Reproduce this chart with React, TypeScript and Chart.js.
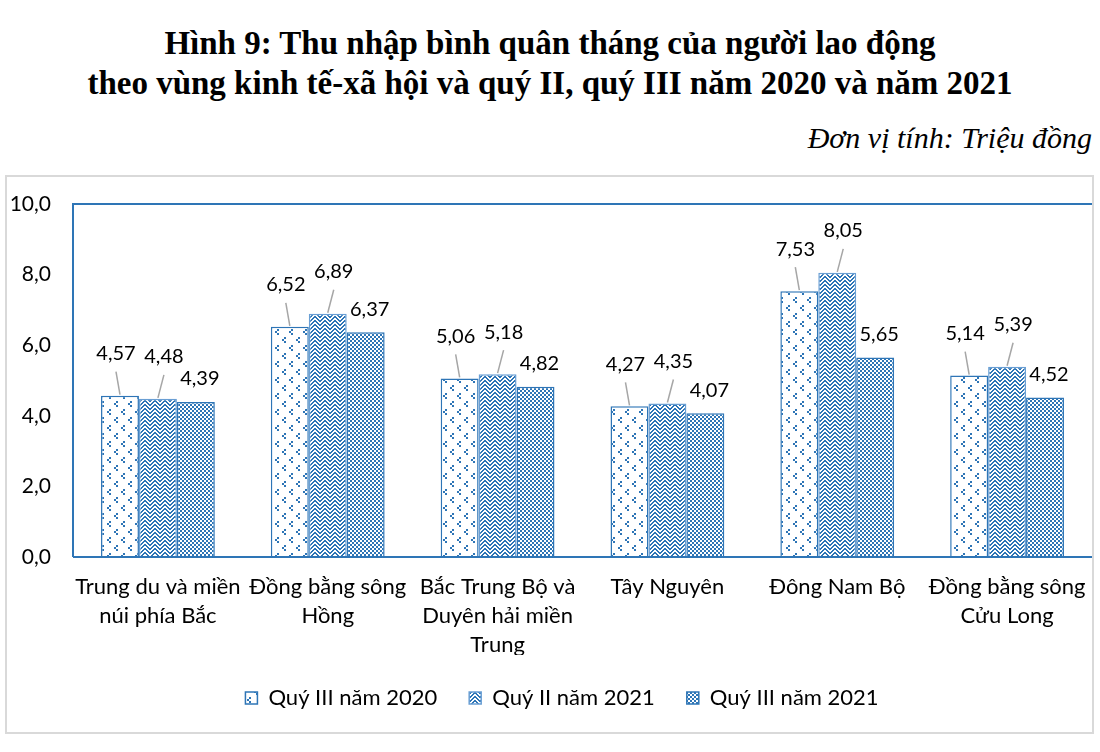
import React, { useEffect, useRef } from "react";
import { Chart, registerables } from "chart.js";

Chart.register(...registerables);

const categories: string[][] = [
  ["Trung du và miền", "núi phía Bắc"],
  ["Đồng bằng sông", "Hồng"],
  ["Bắc Trung Bộ và", "Duyên hải miền", "Trung"],
  ["Tây Nguyên"],
  ["Đông Nam Bộ"],
  ["Đồng bằng sông", "Cửu Long"],
];
const seriesNames = ["Quý III năm 2020", "Quý II năm 2021", "Quý III năm 2021"];
const q3y2020 = [4.57, 6.52, 5.06, 4.27, 7.53, 5.14];
const q2y2021 = [4.48, 6.89, 5.18, 4.35, 8.05, 5.39];
const q3y2021 = [4.39, 6.37, 4.82, 4.07, 5.65, 4.52];
const yMin = 0;
const yMax = 10;
const yStep = 2;

const BLUE = "#2e75b6";
const FONT = "Lato";

const LABEL_STYLE = [
  { dx: -4, dy: -42, leader: true },
  { dx: 6, dy: -42, leader: true },
  { dx: 4, dy: -23, leader: false },
];

function makePattern(w: number, h: number, paint: (c: CanvasRenderingContext2D) => void) {
  const cv = document.createElement("canvas");
  cv.width = w;
  cv.height = h;
  const c = cv.getContext("2d")!;
  paint(c);
  return c.createPattern(cv, "repeat")!;
}

function patternDots() {
  return makePattern(14, 16, (c) => {
    c.fillStyle = "#ffffff";
    c.fillRect(0, 0, 14, 16);
    c.fillStyle = BLUE;
    const shape = (x0: number, y0: number) => {
      c.fillRect(x0 + 2, y0, 2, 2);
      c.fillRect(x0, y0 + 2, 2, 2);
      c.fillRect(x0 + 2, y0 + 4, 2, 2);
    };
    shape(2, 1);
    shape(9, 9);
  });
}

function patternZigzag() {
  return makePattern(10, 8, (c) => {
    c.fillStyle = "#ffffff";
    c.fillRect(0, 0, 10, 8);
    c.fillStyle = BLUE;
    for (let x = 0; x < 10; x++) {
      for (let y = 0; y < 8; y++) {
        const on = x < 5 ? (x + y) % 4 < 2 : (y + (9 - x)) % 4 < 2;
        if (on) c.fillRect(x, y, 1, 1);
      }
    }
  });
}

function patternChecker() {
  return makePattern(4, 4, (c) => {
    c.fillStyle = BLUE;
    c.fillRect(0, 0, 4, 4);
    c.fillStyle = "#ffffff";
    c.fillRect(0, 0, 2, 2);
    c.fillRect(2, 2, 2, 2);
  });
}

const fmt2 = (v: number) => v.toFixed(2).replace(".", ",");
const fmt1 = (v: number) => v.toFixed(1).replace(".", ",");

const framePlugin = {
  id: "frameAndLabels",
  afterDatasetsDraw(chart: any) {
    const ctx: CanvasRenderingContext2D = chart.ctx;
    const a = chart.chartArea;
    ctx.save();
    ctx.strokeStyle = BLUE;
    ctx.lineWidth = 2;
    ctx.beginPath();
    ctx.moveTo(a.left, a.bottom);
    ctx.lineTo(a.left, a.top);
    ctx.lineTo(a.right, a.top);
    ctx.moveTo(a.left, a.bottom);
    ctx.lineTo(a.right, a.bottom);
    ctx.stroke();

    ctx.font = `20px ${FONT}`;
    ctx.fillStyle = "#000000";
    ctx.textAlign = "center";
    ctx.textBaseline = "middle";
    chart.data.datasets.forEach((ds: any, i: number) => {
      const meta = chart.getDatasetMeta(i);
      const st = LABEL_STYLE[i];
      meta.data.forEach((bar: any, j: number) => {
        const v = ds.data[j] as number;
        const lx = bar.x + st.dx;
        const ly = bar.y + st.dy;
        if (st.leader) {
          ctx.strokeStyle = "#a6a6a6";
          ctx.lineWidth = 1.5;
          ctx.beginPath();
          ctx.moveTo(bar.x, bar.y - 1);
          ctx.lineTo(lx, ly + 18);
          ctx.stroke();
        }
        ctx.fillText(fmt2(v), lx, ly);
      });
    });
    ctx.restore();
  },
};

export default function App() {
  const ref = useRef<HTMLCanvasElement | null>(null);

  useEffect(() => {
    if (!ref.current) return;
    const chart = new Chart(ref.current, {
      type: "bar",
      data: {
        labels: categories,
        datasets: [
          {
            label: seriesNames[0],
            data: q3y2020,
            backgroundColor: patternDots(),
            borderColor: BLUE,
            borderWidth: 1.5,
          },
          {
            label: seriesNames[1],
            data: q2y2021,
            backgroundColor: patternZigzag(),
            borderColor: "#6a9fd4",
            borderWidth: 1.5,
          },
          {
            label: seriesNames[2],
            data: q3y2021,
            backgroundColor: patternChecker(),
            borderColor: BLUE,
            borderWidth: 1.5,
          },
        ] as any,
      },
      options: {
        responsive: false,
        animation: false,
        layout: { padding: { top: 44, right: 0, left: 0, bottom: 16 } },
        datasets: { bar: { categoryPercentage: 0.67, barPercentage: 1 } } as any,
        scales: {
          x: {
            grid: { display: false, drawTicks: false },
            border: { display: false },
            ticks: {
              color: "#000000",
              padding: 15,
              maxRotation: 0,
              autoSkip: false,
              font: { family: FONT, size: 22, lineHeight: 1.32 },
            },
            afterFit: (s: any) => {
              s.height = 98;
            },
          },
          y: {
            min: yMin,
            max: yMax,
            grid: { display: false, drawTicks: false },
            border: { display: false },
            ticks: {
              stepSize: yStep,
              color: "#000000",
              padding: 22,
              font: { family: FONT, size: 21 },
              callback: (v: any) => fmt1(Number(v)),
            },
            afterFit: (s: any) => {
              s.width = 73;
            },
          },
          ySpacer: {
            type: "linear",
            position: "right",
            display: true,
            min: yMin,
            max: yMax,
            grid: { display: false, drawTicks: false },
            border: { display: false },
            ticks: { display: false },
            afterFit: (s: any) => {
              s.width = 32;
            },
          },
        } as any,
        plugins: {
          legend: {
            position: "bottom",
            labels: {
              color: "#000000",
              boxWidth: 12,
              boxHeight: 12,
              padding: 32,
              font: { family: FONT, size: 22 },
            },
          },
          tooltip: { enabled: false },
          title: { display: false },
        },
      },
      plugins: [framePlugin],
    });
    return () => chart.destroy();
  }, []);

  return (
    <div
      style={{
        position: "absolute",
        left: 0,
        top: 0,
        width: 1100,
        height: 752,
        background: "#ffffff",
        overflow: "hidden",
      }}
    >
      <div
        style={{
          position: "absolute",
          left: 0,
          top: 23,
          width: 1100,
          textAlign: "center",
          fontFamily: "'Liberation Serif', 'Times New Roman', serif",
          fontWeight: "bold",
          fontSize: 33,
          lineHeight: "40px",
          color: "#000",
        }}
      >
        <div>Hình 9: Thu nhập bình quân tháng của người lao động</div>
        <div>theo vùng kinh tế-xã hội và quý II, quý III năm 2020 và năm 2021</div>
      </div>
      <div
        style={{
          position: "absolute",
          right: 8,
          top: 123,
          fontFamily: "'Liberation Serif', 'Times New Roman', serif",
          fontStyle: "italic",
          fontSize: 30,
          lineHeight: "30px",
          color: "#000",
        }}
      >
        Đơn vị tính: Triệu đồng
      </div>
      <canvas
        ref={ref}
        width={1124}
        height={575}
        style={{ position: "absolute", left: 0, top: 160, width: 1124, height: 575 }}
      />
      <div
        style={{
          position: "absolute",
          left: 5,
          top: 175,
          width: 1089,
          height: 559,
          border: "2px solid #d9d9d9",
          boxSizing: "border-box",
          pointerEvents: "none",
        }}
      />
    </div>
  );
}
